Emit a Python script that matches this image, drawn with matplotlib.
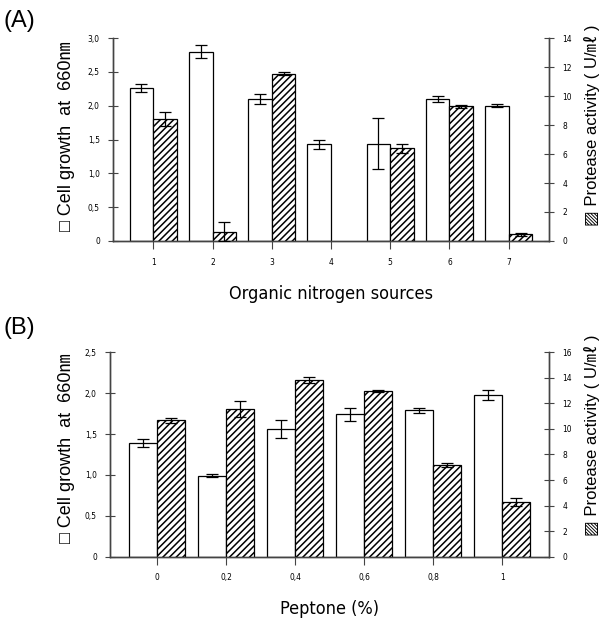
import matplotlib
matplotlib.use("Agg")
import matplotlib.pyplot as plt
from matplotlib import font_manager
import numpy as np

# (A) organic nitrogen sources
sources = ["1", "2", "3", "4", "5", "6", "7"]
growth_a = [2.26, 2.80, 2.10, 1.43, 1.44, 2.10, 2.00]
growth_a_err = [0.06, 0.10, 0.07, 0.07, 0.38, 0.04, 0.02]
protease_a = [8.4, 0.65, 11.55, 0.0, 6.4, 9.3, 0.45]
protease_a_err = [0.5, 0.65, 0.1, 0.0, 0.3, 0.1, 0.1]

# (B) peptone concentration
peptone = ["0", "0,2", "0,4", "0,6", "0,8", "1"]
growth_b = [1.39, 0.99, 1.56, 1.74, 1.79, 1.98]
growth_b_err = [0.05, 0.02, 0.11, 0.08, 0.03, 0.06]
protease_b = [10.67, 11.53, 13.83, 12.97, 7.17, 4.28]
protease_b_err = [0.2, 0.62, 0.2, 0.05, 0.15, 0.35]

left_ticks_a = ["0", "0,5", "1,0", "1,5", "2,0", "2,5", "3,0"]
left_ticks_b = ["0", "0,5", "1,0", "1,5", "2,0", "2,5"]

plt.rcParams["hatch.linewidth"] = 1.1
LABEL_FONT = ["Liberation Sans", "DejaVu Sans", "Noto Sans CJK JP"]
installed = {f.name for f in font_manager.fontManager.ttflist}
if "Liberation Sans Narrow" in installed:
    NARROW = dict(family="Liberation Sans Narrow")
else:
    NARROW = dict(family="DejaVu Sans", stretch="condensed")
AX_COL = "#444444"

fig = plt.figure(figsize=(6.02, 6.24), dpi=100)


def draw_panel(rect, cats, growth, growth_err, prot, prot_err, gmax, left_labels, pmax, xlabel):
    ax = fig.add_axes(rect)
    ax2 = ax.twinx()
    x = np.arange(len(cats))
    w = 0.4
    ax.bar(x - w / 2, growth, width=w, color="white", edgecolor="black", linewidth=0.9, zorder=2)
    ax.errorbar(x - w / 2, growth, yerr=growth_err, fmt="none", ecolor="black",
                elinewidth=0.9, capsize=4.5, capthick=0.9, zorder=3)
    prot = np.array(prot)
    keep = prot > 0
    ax2.bar(x[keep] + w / 2, prot[keep], width=w, color="white", edgecolor="black",
            hatch="/////", linewidth=0.9, zorder=2)
    ax2.errorbar(x[keep] + w / 2, prot[keep], yerr=np.array(prot_err)[keep], fmt="none",
                 ecolor="black", elinewidth=0.9, capsize=4.5, capthick=0.9, zorder=3)

    ax.set_xlim(-0.68, len(cats) - 0.32)
    ax.set_ylim(0, gmax)
    ax2.set_ylim(0, pmax)
    ax.set_xticks(x)
    ax.set_xticklabels(cats, fontsize=6, **NARROW)
    ax.set_yticks(np.arange(len(left_labels)) * 0.5)
    ax.set_yticklabels(left_labels, fontsize=6, **NARROW)
    ax2.set_yticks(np.arange(0, pmax + 1, 2))
    ax2.set_yticklabels([str(v) for v in range(0, int(pmax) + 1, 2)], fontsize=6, **NARROW)

    for a in (ax, ax2):
        a.spines["top"].set_visible(False)
        for s in ("left", "right", "bottom"):
            a.spines[s].set_color(AX_COL)
            a.spines[s].set_linewidth(1.0)
    ax.tick_params(axis="y", direction="inout", length=7, width=0.8, color=AX_COL, pad=6)
    ax2.tick_params(axis="y", direction="inout", length=7, width=0.8, color=AX_COL, pad=6)
    ax.tick_params(axis="x", direction="out", length=6, width=0.8, color=AX_COL, pad=6)
    ax.set_xlabel(xlabel, fontsize=13, labelpad=13, **NARROW)
    return ax


draw_panel([0.1877, 0.6138, 0.7243, 0.3252], sources, growth_a, growth_a_err,
           protease_a, protease_a_err, 3.0, left_ticks_a, 14, "Organic nitrogen sources")
draw_panel([0.1827, 0.1079, 0.7293, 0.3275], peptone, growth_b, growth_b_err,
           protease_b, protease_b_err, 2.5, left_ticks_b, 16, "Peptone (%)")

fig.text(0.006, 0.966, "(A)", fontsize=17, family=LABEL_FONT, va="center")
fig.text(0.006, 0.474, "(B)", fontsize=17, family=LABEL_FONT, va="center")

for yc in (0.781, 0.282):
    fig.text(0.110, yc, "\u25a1 Cell growth  at  660\u339a", rotation=90, fontsize=13,
             family=LABEL_FONT, ha="center", va="center")
for yc in (0.800, 0.302):
    fig.text(0.983, yc, "\u25a8 Protease activity ( U/\u3396 )", rotation=90, fontsize=12,
             family=LABEL_FONT, ha="center", va="center")

fig.savefig("out.png", dpi=100)
